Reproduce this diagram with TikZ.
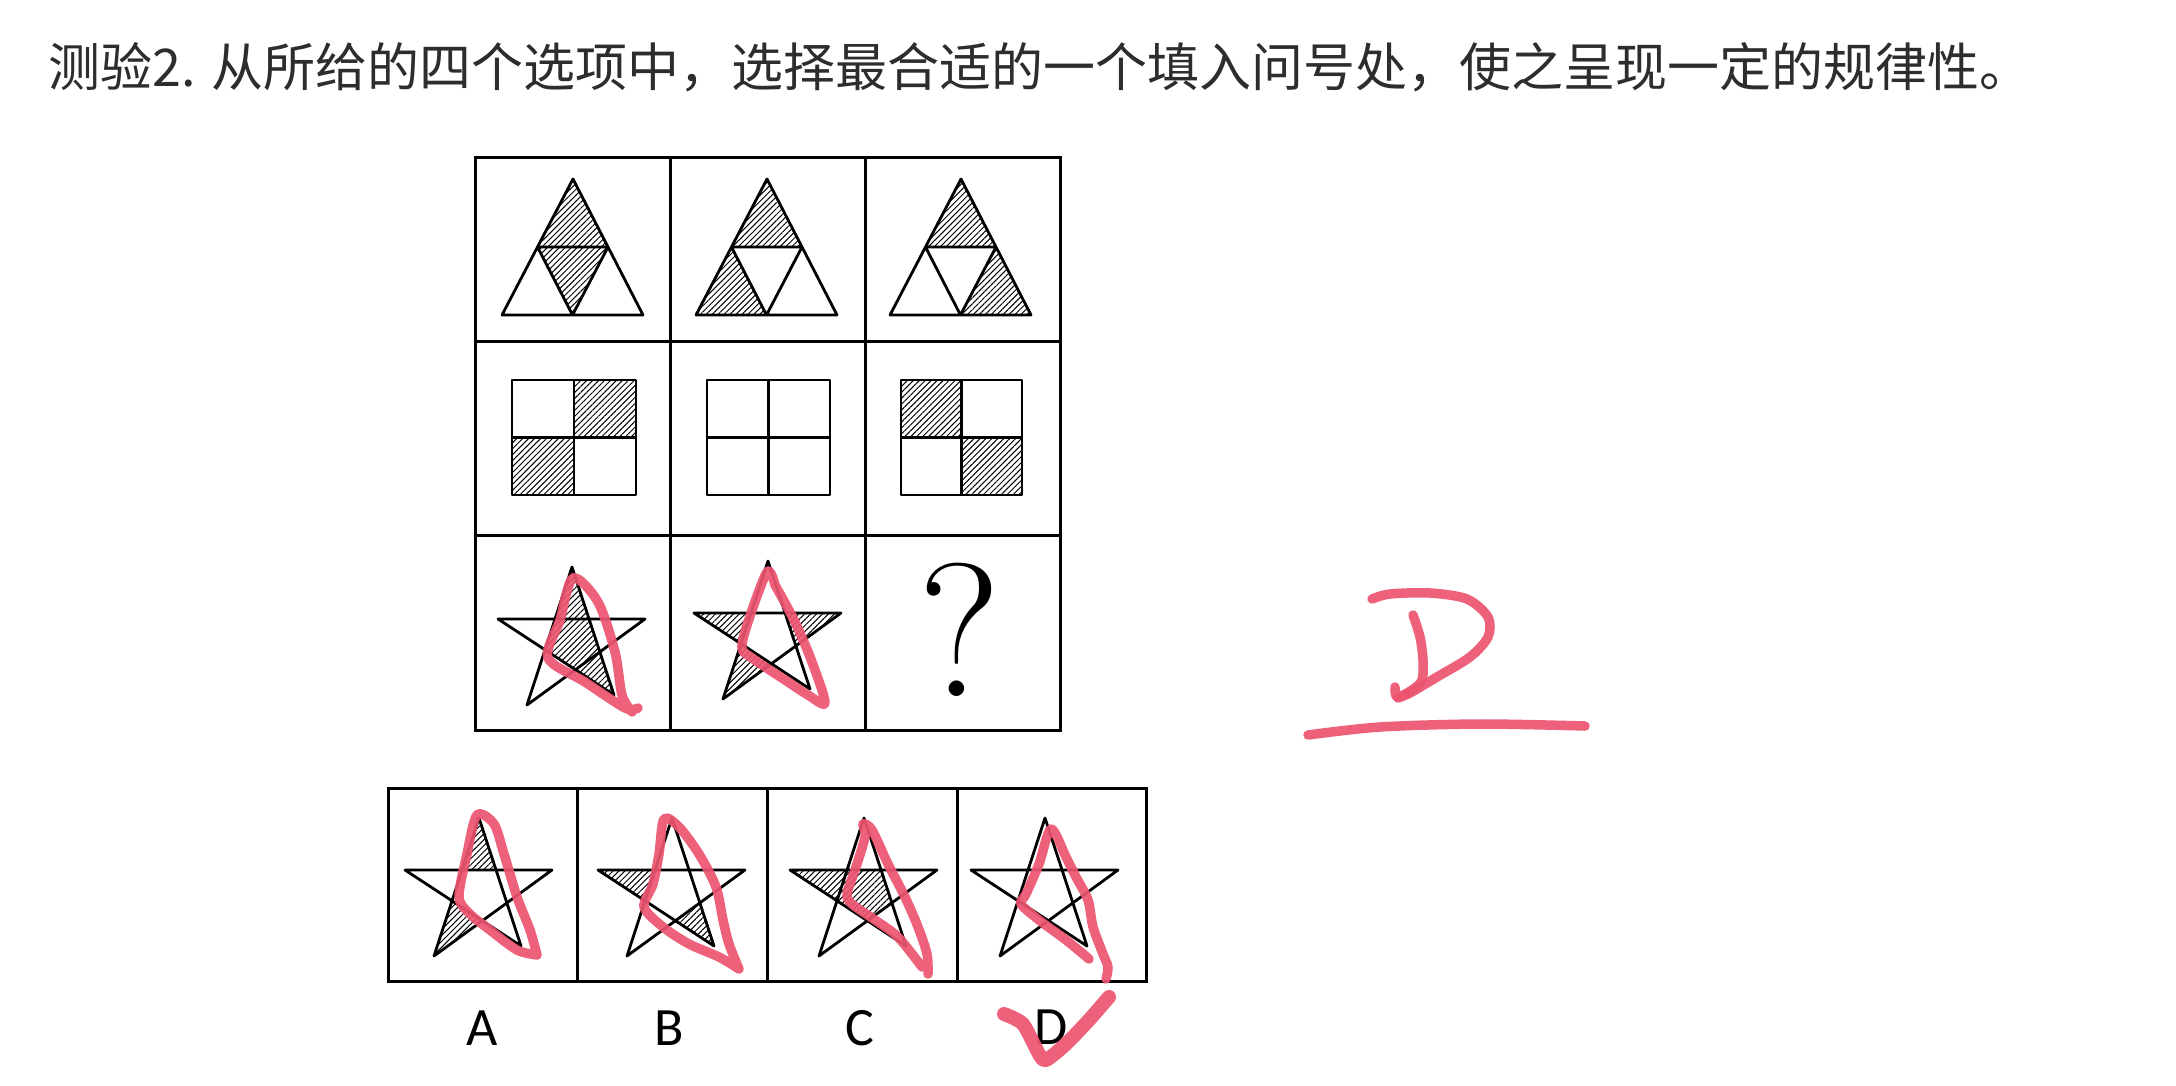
\documentclass[tikz,border=0pt]{standalone}
\usepackage{fontspec}
\newfontfamily\cjk{Noto Sans CJK SC}
\newfontfamily\carl{Carlito}
\usetikzlibrary{patterns.meta,calc}
\definecolor{penred}{RGB}{236,84,112}
\definecolor{titlegray}{RGB}{45,45,45}
\tikzset{
  gridline/.style={draw=black, line width=3pt},
  figline/.style={draw=black, line width=2.8pt, line join=round},
  hatch/.style={pattern={Lines[angle=45,distance=4.2pt,line width=1pt]}, pattern color=black},
  pen/.style={draw=penred, line width=9.5pt, line cap=round, line join=round, opacity=0.92},
}
% star: top vertex at (#1,#2)
\newcommand{\defstar}[2]{%
  \begin{scope}[shift={(#1,#2)}]
    \coordinate (T) at (0,0);
    \coordinate (L) at (-74,52);
    \coordinate (R) at (73,52);
    \coordinate (BL) at (-45,138);
    \coordinate (BR) at (42,128);
  \end{scope}
  \coordinate (P1) at (intersection of T--BL and L--R);
  \coordinate (P2) at (intersection of T--BR and L--R);
  \coordinate (P3) at (intersection of T--BR and R--BL);
  \coordinate (P4) at (intersection of R--BL and L--BR);
  \coordinate (P5) at (intersection of L--BR and T--BL);
}
\newcommand{\drawstar}{\draw[figline] (T)--(BL)--(R)--(L)--(BR)--cycle;}
% triangle: apex x = #1
\newcommand{\deftri}[1]{%
  \coordinate (TA) at (#1,179);
  \coordinate (TB) at ({#1-71},315);
  \coordinate (TC) at ({#1+70},315);
  \coordinate (TAB) at ($(TA)!0.5!(TB)$);
  \coordinate (TAC) at ($(TA)!0.5!(TC)$);
  \coordinate (TBC) at ($(TB)!0.5!(TC)$);
}
\newcommand{\drawtri}{\draw[figline] (TA)--(TB)--(TC)--cycle (TAB)--(TAC)--(TBC)--cycle;}
% square: x0 x1, y 380-495
\newcommand{\defsq}[2]{%
  \coordinate (Q0) at (#1,380);
  \coordinate (Q1) at (#2,495);
  \coordinate (QM) at ($(Q0)!0.5!(Q1)$);
}
\newcommand{\drawsq}{\draw[figline] (Q0) rectangle (Q1) (Q0 -| QM)--(Q1 -| QM) (Q0 |- QM)--(Q1 |- QM);}
\begin{document}
\begin{tikzpicture}[x=1pt,y=-1pt]
\useasboundingbox (0,0) rectangle (2176,1086);
\fill[white] (0,0) rectangle (2176,1086);

% title
\node[anchor=west, inner sep=0pt, text=titlegray, font=\cjk\fontsize{52}{60}\selectfont] (title) at (48,67)
  {测验2. 从所给的四个选项中，选择最合适的一个填入问号处，使之呈现一定的规律性。};

% ---------- row 1: triangles ----------
\deftri{573}
\fill[hatch] (TA)--(TAB)--(TAC)--cycle;
\fill[hatch] (TAB)--(TAC)--(TBC)--cycle;
\drawtri
\deftri{767}
\fill[hatch] (TA)--(TAB)--(TAC)--cycle;
\fill[hatch] (TAB)--(TB)--(TBC)--cycle;
\drawtri
\deftri{961}
\fill[hatch] (TA)--(TAB)--(TAC)--cycle;
\fill[hatch] (TAC)--(TBC)--(TC)--cycle;
\drawtri

% ---------- row 2: squares ----------
\defsq{512}{636}
\fill[hatch] (Q0 -| QM) rectangle (Q1 |- QM);
\fill[hatch] (Q0 |- QM) rectangle (Q1 -| QM);
\drawsq
\defsq{707}{830}
\drawsq
\defsq{901}{1022}
\fill[hatch] (Q0) rectangle (QM);
\fill[hatch] (QM) rectangle (Q1);
\drawsq

% ---------- row 3: stars ----------
\defstar{572}{567}
\fill[hatch] (T)--(P5)--(BR)--cycle;
\drawstar
\defstar{768}{561}
\fill[hatch] (L)--(P1)--(P5)--cycle;
\fill[hatch] (R)--(P2)--(P3)--cycle;
\fill[hatch] (BL)--(P5)--(P4)--cycle;
\drawstar
\node[inner sep=0pt, font=\fontsize{190}{190}\selectfont] (qmark) at (960,630) {?};

% main grid
\draw[gridline] (475,158) rectangle (1060,730);
\draw[gridline] (670,158)--(670,730) (865,158)--(865,730) (475,341)--(1060,341) (475,535)--(1060,535);

% ---------- options ----------
\defstar{479}{818}
\fill[hatch] (T)--(P1)--(P2)--cycle;
\fill[hatch] (BL)--(P5)--(P4)--cycle;
\drawstar
\defstar{672}{818}
\fill[hatch] (L)--(P1)--(P5)--cycle;
\fill[hatch] (BR)--(P3)--(P4)--cycle;
\drawstar
\defstar{864}{818}
\fill[hatch] (L)--(P1)--(P5)--cycle;
\fill[hatch] (P1)--(P2)--(P3)--(P4)--(P5)--cycle;
\drawstar
\defstar{1045}{818}
\drawstar

\draw[gridline] (388,788) rectangle (1146,981);
\draw[gridline] (577,788)--(577,981) (767,788)--(767,981) (957,788)--(957,981);

\node[inner sep=0pt, font=\carl\fontsize{54}{54}\selectfont] (labA) at (482,1028) {A};
\node[inner sep=0pt, font=\carl\fontsize{54}{54}\selectfont] (labB) at (669,1028) {B};
\node[inner sep=0pt, font=\carl\fontsize{54}{54}\selectfont] (labC) at (860,1028) {C};
\node[inner sep=0pt, font=\carl\fontsize{54}{54}\selectfont] (labD) at (1051,1027) {D};

% ---------- red pen annotations ----------
% row 3 cell 1
\draw[pen] plot[smooth, tension=0.5] coordinates {(638,708) (625,708) (585,682) (548,658) (560,620) (573,578) (598,602) (615,652) (622,695) (632,712)};
% row 3 cell 2
\draw[pen] plot[smooth, tension=0.5] coordinates {(775,585) (767,572) (748,622) (742,648) (752,658) (788,682) (808,695) (825,703) (812,662) (795,622) (775,585)};
% option A
\draw[pen] plot[smooth, tension=0.5] coordinates {(537,955) (517,950) (490,930) (470,914) (459,897) (467,854) (477,815) (494,824) (504,854) (517,897) (530,930) (537,955)};
% option B
\draw[pen] plot[smooth, tension=0.5] coordinates {(739,969) (719,957) (689,944) (663,927) (644,907) (653,884) (659,854) (664,819) (679,827) (699,854) (716,887) (723,920) (729,944) (739,969)};
% option C
\draw[pen] plot[smooth, tension=0.5] coordinates {(922,967) (898,937) (875,920) (852,904) (847,894) (855,870) (865,837) (863,824) (872,830) (888,864) (905,897) (918,927) (927,954) (928,974)};
% option D
\draw[pen] plot[smooth, tension=0.5] coordinates {(1089,959) (1066,940) (1039,920) (1021,904) (1026,894) (1039,864) (1051,829) (1066,857) (1076,877) (1088,900) (1093,927) (1103,954) (1108,967) (1106,979)};
% check mark
\draw[pen, line width=14pt] plot[smooth, tension=0.4] coordinates {(1004,1014) (1023,1024) (1039,1054) (1046,1060) (1066,1044) (1089,1020) (1109,997)};

% big red D and underline
\draw[pen] plot[smooth, tension=0.5] coordinates {(1372,599) (1390,594) (1430,593) (1467,599) (1488,617) (1488,637) (1470,657) (1437,677) (1410,693) (1398,698)};
\draw[pen] plot[smooth, tension=0.5] coordinates {(1413,615) (1420,637) (1423,660) (1422,680) (1412,690) (1397,697) (1395,687)};
\draw[pen] plot[smooth, tension=0.5] coordinates {(1308,735) (1380,727) (1480,724) (1585,726)};
\end{tikzpicture}
\end{document}
